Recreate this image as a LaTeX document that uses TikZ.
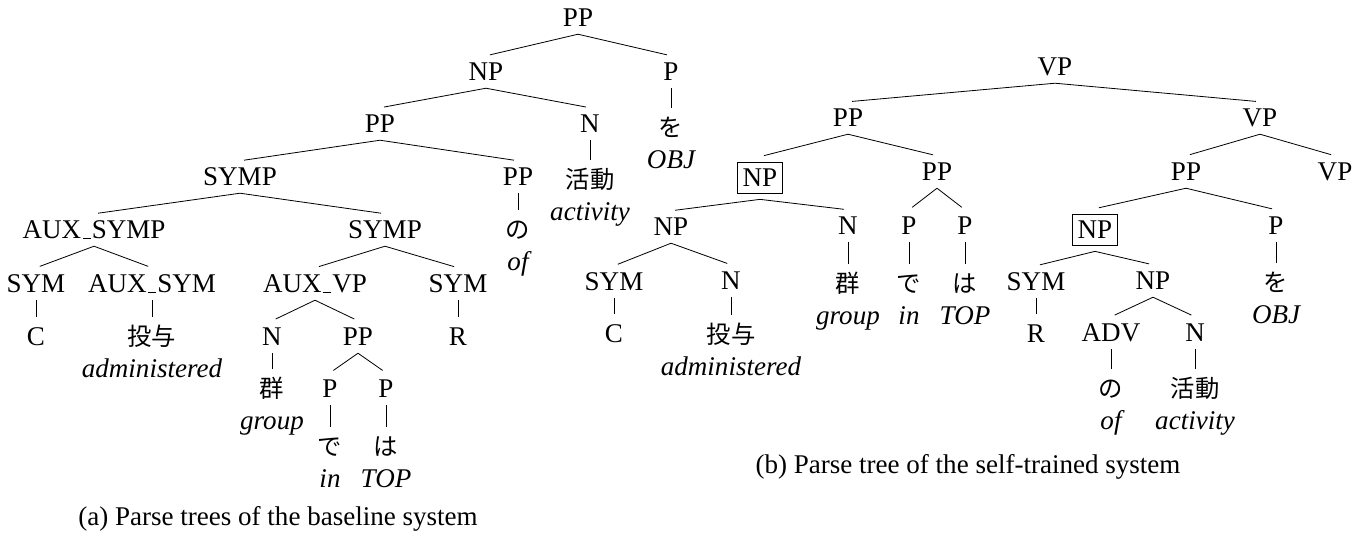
\documentclass[tikz,border=0pt]{standalone}
\usepackage{fontspec}
\setmainfont{Liberation Serif}
\newfontfamily\jpfont{Noto Sans CJK JP}[Scale=0.9]
\usetikzlibrary{positioning}

\newcommand{\uscore}{\kern0.06em\vrule width0.3em height0.45pt depth0pt\kern0.04em}
\newcommand{\branch}[2]{\foreach \kid in {#2} {\draw[branch] (#1.south) -- (\kid.north);}}

\tikzset{
  cat/.style={inner sep=2.5pt, text height=6.6pt, text depth=0pt},
  boxed/.style={cat, draw, line width=0.35pt, inner xsep=2pt, inner ysep=2.6pt, outer ysep=2pt},
  word/.style={cat, font=\jpfont},
  gloss/.style={below=11.8pt of #1, anchor=base, inner sep=0pt, font=\itshape},
  branch/.style={line width=0.3pt, shorten >=1.5pt},
  caption/.style={inner sep=0pt}
}

\begin{document}
\begin{tikzpicture}[x=0.37pt, y=-0.37pt]

    \useasboundingbox (0,0) rectangle (1371,534);

    % Define nodes: tree (a)

    \node[cat]   (a_root)    at (578,18)  {PP};
    \node[cat]   (a_np)      at (486,72)  {NP};
    \node[cat]   (a_p)       at (671,72)  {P};
    \node[cat]   (a_pp)      at (380,124) {PP};
    \node[cat]   (a_n)       at (590,124) {N};
    \node[word]  (a_wo)      at (671,128) {を};
    \node[cat]   (a_symp)    at (240,177) {SYMP};
    \node[cat]   (a_pp_no)   at (518,177) {PP};
    \node[word]  (a_katsudo) at (590,180) {活動};
    \node[cat]   (a_auxsymp) at (94,230)  {AUX\uscore SYMP};
    \node[cat]   (a_symp_r)  at (385,230) {SYMP};
    \node[word]  (a_no)      at (518,230) {の};
    \node[cat]   (a_sym)     at (36,284)  {SYM};
    \node[cat]   (a_auxsym)  at (152,284) {AUX\uscore SYM};
    \node[cat]   (a_auxvp)   at (315,284) {AUX\uscore VP};
    \node[cat]   (a_sym_r)   at (458,284) {SYM};
    \node[cat]   (a_c)       at (36,337)  {C};
    \node[word]  (a_toyo)    at (152,337) {投与};
    \node[cat]   (a_n_gun)   at (272,337) {N};
    \node[cat]   (a_pp_dewa) at (358,337) {PP};
    \node[cat]   (a_r)       at (458,337) {R};
    \node[word]  (a_gun)     at (272,389) {群};
    \node[cat]   (a_p_de)    at (330,389) {P};
    \node[cat]   (a_p_wa)    at (386,389) {P};
    \node[word]  (a_de)      at (330,447) {で};
    \node[word]  (a_wa)      at (386,447) {は};

    % glosses
    \node[gloss=a_wo.base]      (a_wo_gl)      {OBJ};
    \node[gloss=a_katsudo.base] (a_katsudo_gl) {activity};
    \node[gloss=a_no.base]      (a_no_gl)      {of};
    \node[gloss=a_toyo.base]    (a_toyo_gl)    {administered};
    \node[gloss=a_gun.base]     (a_gun_gl)     {group};
    \node[gloss=a_de.base]      (a_de_gl)      {in};
    \node[gloss=a_wa.base]      (a_wa_gl)      {TOP};

    % Define nodes: tree (b)

    \node[cat]   (b_root)    at (1055,67)  {VP};
    \node[cat]   (b_pp)      at (848,118)  {PP};
    \node[cat]   (b_vp)      at (1260,118) {VP};
    \node[boxed] (b_np)      at (760,178)  {NP};
    \node[cat]   (b_pp_dewa) at (937,172)  {PP};
    \node[cat]   (b_pp_wo)   at (1186,172) {PP};
    \node[cat]   (b_vp_r)    at (1335,172) {VP};
    \node[cat]   (b_np_l)    at (671,227)  {NP};
    \node[cat]   (b_n_gun)   at (848,226)  {N};
    \node[cat]   (b_p_de)    at (909,226)  {P};
    \node[cat]   (b_p_wa)    at (965,226)  {P};
    \node[boxed] (b_np_r)    at (1095,230) {NP};
    \node[cat]   (b_p_wo)    at (1276,226) {P};
    \node[cat]   (b_sym)     at (614,282)  {SYM};
    \node[cat]   (b_n_toyo)  at (731,281)  {N};
    \node[word]  (b_gun)     at (848,284)  {群};
    \node[word]  (b_de)      at (909,284)  {で};
    \node[word]  (b_wa)      at (965,284)  {は};
    \node[cat]   (b_sym_r)   at (1036,282) {SYM};
    \node[cat]   (b_np_adv)  at (1153,281) {NP};
    \node[word]  (b_wo)      at (1276,283) {を};
    \node[cat]   (b_c)       at (614,334)  {C};
    \node[word]  (b_toyo)    at (731,335)  {投与};
    \node[cat]   (b_r)       at (1036,334) {R};
    \node[cat]   (b_adv)     at (1111,333) {ADV};
    \node[cat]   (b_n)       at (1195,333) {N};
    \node[word]  (b_no)      at (1111,389) {の};
    \node[word]  (b_katsudo) at (1195,389) {活動};

    % glosses
    \node[gloss=b_gun.base]     (b_gun_gl)     {group};
    \node[gloss=b_de.base]      (b_de_gl)      {in};
    \node[gloss=b_wa.base]      (b_wa_gl)      {TOP};
    \node[gloss=b_wo.base]      (b_wo_gl)      {OBJ};
    \node[gloss=b_toyo.base]    (b_toyo_gl)    {administered};
    \node[gloss=b_no.base]      (b_no_gl)      {of};
    \node[gloss=b_katsudo.base] (b_katsudo_gl) {activity};

    % captions
    \node[caption] (cap_a) at (278,519) {(a) Parse trees of the baseline system};
    \node[caption] (cap_b) at (968,467) {(b) Parse tree of the self-trained system};

    % Connect the nodes: tree (a)
    \branch {a_root} {a_np, a_p};
    \branch {a_p} {a_wo};
    \branch {a_np} {a_pp, a_n};
    \branch {a_n} {a_katsudo};
    \branch {a_pp} {a_symp, a_pp_no};
    \branch {a_pp_no} {a_no};
    \branch {a_symp} {a_auxsymp, a_symp_r};
    \branch {a_auxsymp} {a_sym, a_auxsym};
    \branch {a_sym} {a_c};
    \branch {a_auxsym} {a_toyo};
    \branch {a_symp_r} {a_auxvp, a_sym_r};
    \branch {a_sym_r} {a_r};
    \branch {a_auxvp} {a_n_gun, a_pp_dewa};
    \branch {a_n_gun} {a_gun};
    \branch {a_pp_dewa} {a_p_de, a_p_wa};
    \branch {a_p_de} {a_de};
    \branch {a_p_wa} {a_wa};

    % Connect the nodes: tree (b)
    \branch {b_root} {b_pp, b_vp};
    \branch {b_pp} {b_np, b_pp_dewa};
    \branch {b_np} {b_np_l, b_n_gun};
    \branch {b_np_l} {b_sym, b_n_toyo};
    \branch {b_sym} {b_c};
    \branch {b_n_toyo} {b_toyo};
    \branch {b_n_gun} {b_gun};
    \branch {b_pp_dewa} {b_p_de, b_p_wa};
    \branch {b_p_de} {b_de};
    \branch {b_p_wa} {b_wa};
    \branch {b_vp} {b_pp_wo, b_vp_r};
    \branch {b_pp_wo} {b_np_r, b_p_wo};
    \branch {b_p_wo} {b_wo};
    \branch {b_np_r} {b_sym_r, b_np_adv};
    \branch {b_sym_r} {b_r};
    \branch {b_np_adv} {b_adv, b_n};
    \branch {b_adv} {b_no};
    \branch {b_n} {b_katsudo};

  \end{tikzpicture}
\end{document}
